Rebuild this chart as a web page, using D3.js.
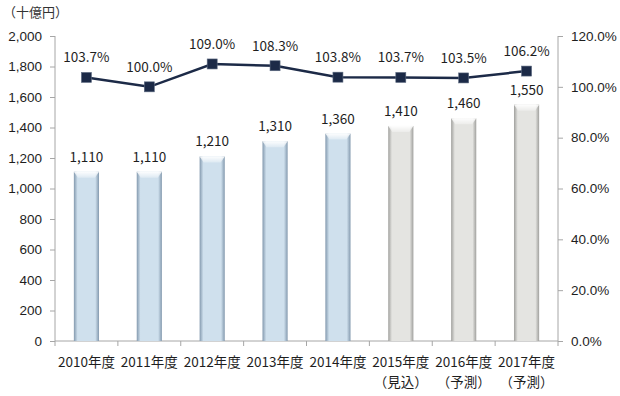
<!DOCTYPE html>
<html lang="ja">
<head>
<meta charset="UTF-8">
<title>市場規模推移</title>
<script src="https://d3js.org/d3.v7.min.js"></script>
<style>
  body { margin: 0; background: #fff; }
  svg { display: block; font-family: "Noto Sans CJK JP", "Noto Sans", sans-serif; }
  .axis path, .axis line { stroke: #a6a6a6; }
  .axis text { fill: #1e1e1e; font-size: 13.5px; }
</style>
</head>
<body>
<svg id="chart" width="620" height="396"></svg>
<script>
// data
const years = ['2010年度', '2011年度', '2012年度', '2013年度', '2014年度', '2015年度', '2016年度', '2017年度'];
const notes = ['', '', '', '', '', '（見込）', '（予測）', '（予測）'];
const amounts = [1110, 1110, 1210, 1310, 1360, 1410, 1460, 1550];
const growth = [103.7, 100.0, 109.0, 108.3, 103.8, 103.7, 103.5, 106.2];
const actualCount = 5; // first 5 are actuals, rest are estimates
const leftTicks = [0, 200, 400, 600, 800, 1000, 1200, 1400, 1600, 1800, 2000];
const rightTicks = [0, 20, 40, 60, 80, 100, 120];

const margin = { top: 36, right: 62, bottom: 55, left: 55 };
const svg = d3.select('#chart');
const width = +svg.attr('width') - margin.left - margin.right;
const height = +svg.attr('height') - margin.top - margin.bottom;

const x = d3.scaleBand().domain(years).range([0, width]);
const yL = d3.scaleLinear().domain([0, 2000]).range([height, 0]);
const yR = d3.scaleLinear().domain([0, 120]).range([height, 0]);

// gradients for the bevelled bars
const defs = svg.append('defs');
function barGradient(id, edge, mid) {
    const grad = defs.append('linearGradient').attr('id', id).attr('x1', 0).attr('x2', 1).attr('y1', 0).attr('y2', 0);
    grad.append('stop').attr('offset', '0%').attr('stop-color', edge);
    grad.append('stop').attr('offset', '15%').attr('stop-color', mid);
    grad.append('stop').attr('offset', '85%').attr('stop-color', mid);
    grad.append('stop').attr('offset', '100%').attr('stop-color', edge);
}
barGradient('blueBar', '#8399ae', '#cfe0ed');
barGradient('grayBar', '#a0a09d', '#e4e4e1');
const bevel = defs.append('linearGradient').attr('id', 'bevel').attr('x1', 0).attr('x2', 0).attr('y1', 0).attr('y2', 1);
bevel.append('stop').attr('offset', '0%').attr('stop-color', '#ffffff').attr('stop-opacity', 0.95);
bevel.append('stop').attr('offset', '100%').attr('stop-color', '#ffffff').attr('stop-opacity', 0.3);

const g = svg.append('g').attr('transform', `translate(${margin.left},${margin.top})`);

// unit label
svg.append('text')
    .attr('x', 3)
    .attr('y', 17)
    .attr('font-size', 13)
    .attr('fill', '#333')
    .text('（十億円）');

// axes
g.append('g')
    .attr('class', 'axis')
    .call(d3.axisLeft(yL).tickValues(leftTicks).tickFormat(d3.format(',')).tickSize(5).tickPadding(8))
    .call(s => s.select('.domain').attr('d', `M0,0V${height}`));

g.append('g')
    .attr('class', 'axis')
    .attr('transform', `translate(${width},0)`)
    .call(d3.axisRight(yR).tickValues(rightTicks).tickFormat(d => d.toFixed(1) + '%').tickSize(5).tickPadding(8))
    .call(s => s.select('.domain').attr('d', `M0,0V${height}`));

// bottom axis: ticks at category boundaries
const xAxis = g.append('g')
    .attr('class', 'axis')
    .attr('transform', `translate(0,${height})`);
xAxis.append('line').attr('x1', 0).attr('x2', width).attr('stroke', '#a6a6a6');
xAxis.selectAll('.sep')
    .data(d3.range(years.length + 1))
    .enter()
    .append('line')
    .attr('x1', i => i * x.step())
    .attr('x2', i => i * x.step())
    .attr('y1', 0)
    .attr('y2', 5)
    .attr('stroke', '#a6a6a6');
xAxis.selectAll('.year')
    .data(years)
    .enter()
    .append('text')
    .attr('x', d => x(d) + x.bandwidth() / 2)
    .attr('y', 26)
    .attr('text-anchor', 'middle')
    .attr('font-size', 14.5)
    .attr('fill', '#1e1e1e')
    .text(d => d);
xAxis.selectAll('.note')
    .data(notes)
    .enter()
    .append('text')
    .attr('x', (d, i) => x(years[i]) + x.bandwidth() / 2)
    .attr('y', 46)
    .attr('text-anchor', 'middle')
    .attr('font-size', 14.5)
    .attr('fill', '#1e1e1e')
    .text(d => d);

// bars
const barW = x.bandwidth() * 0.4;
const bars = g.selectAll('.bar')
    .data(amounts)
    .enter()
    .append('g')
    .attr('class', 'bar');

bars.append('rect')
    .attr('x', (d, i) => x(years[i]) + (x.bandwidth() - barW) / 2)
    .attr('y', d => yL(d))
    .attr('width', barW)
    .attr('height', d => height - yL(d))
    .attr('fill', (d, i) => i < actualCount ? 'url(#blueBar)' : 'url(#grayBar)');

bars.append('path')
    .attr('d', (d, i) => {
        const x0 = x(years[i]) + (x.bandwidth() - barW) / 2;
        const y0 = yL(d);
        const inset = barW * 0.16;
        return `M${x0},${y0}H${x0 + barW}L${x0 + barW - inset},${y0 + 6}H${x0 + inset}Z`;
    })
    .attr('fill', 'url(#bevel)');

bars.append('text')
    .attr('x', (d, i) => x(years[i]) + x.bandwidth() / 2)
    .attr('y', d => yL(d) - 10)
    .attr('text-anchor', 'middle')
    .attr('font-size', 13.5)
    .attr('fill', '#1e1e1e')
    .text(d => d3.format(',')(d));

// growth line
const cx = (d, i) => x(years[i]) + x.bandwidth() / 2;
const line = d3.line().x(cx).y(d => yR(d));

g.append('path')
    .datum(growth)
    .attr('d', line)
    .attr('fill', 'none')
    .attr('stroke', '#1c2a47')
    .attr('stroke-width', 2.5);

g.selectAll('.marker')
    .data(growth)
    .enter()
    .append('rect')
    .attr('x', (d, i) => cx(d, i) - 5)
    .attr('y', d => yR(d) - 5)
    .attr('width', 10)
    .attr('height', 10)
    .attr('fill', '#1c2a47')
    .attr('stroke', '#5d6a80')
    .attr('stroke-width', 0.6);

g.selectAll('.glabel')
    .data(growth)
    .enter()
    .append('text')
    .attr('x', cx)
    .attr('y', d => yR(d) - 15)
    .attr('text-anchor', 'middle')
    .attr('font-size', 13.5)
    .attr('fill', '#1e1e1e')
    .text(d => d.toFixed(1) + '%');
</script>
</body>
</html>
